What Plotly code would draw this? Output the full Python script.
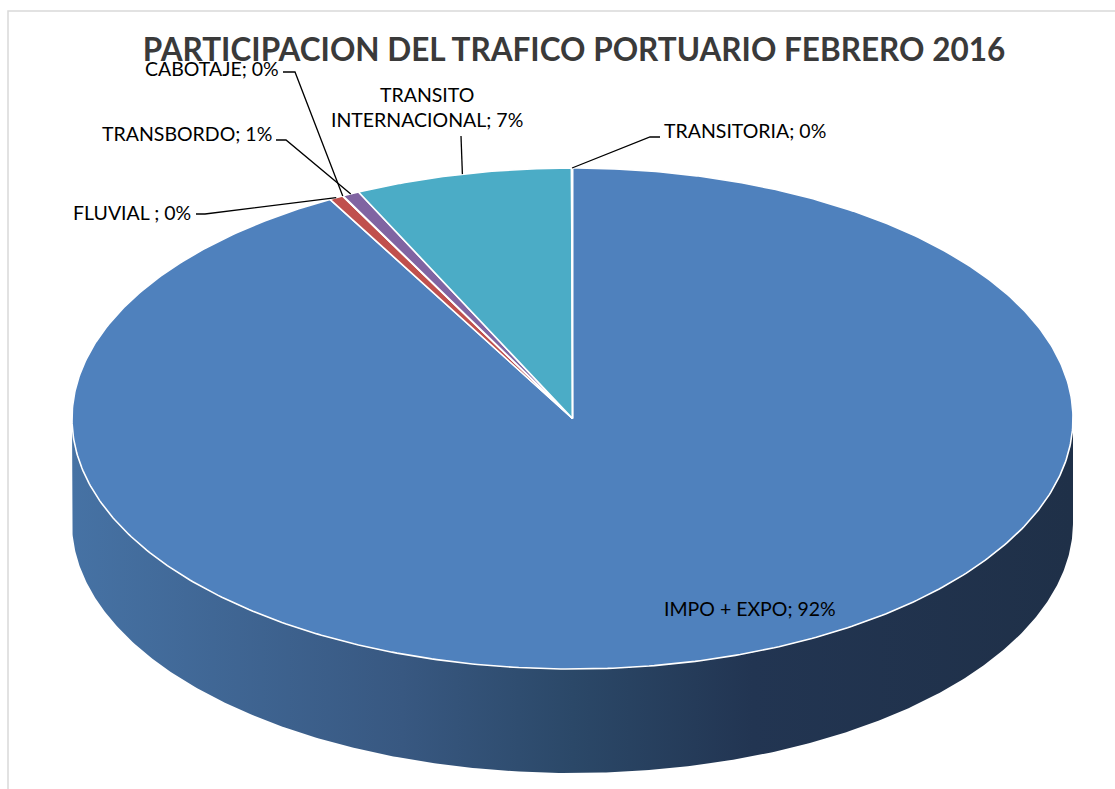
import numpy as np
import plotly.graph_objects as go

# ---------------- data ----------------
categories = ["IMPO + EXPO", "FLUVIAL ", "CABOTAJE", "TRANSBORDO", "TRANSITO INTERNACIONAL", "TRANSITORIA"]
values = [91.95, 0.45, 0.02, 0.55, 7.0, 0.03]
slice_colors = ["#4F81BD", "#C0504D", "#9BBB59", "#8064A2", "#4BACC6", "#F79646"]
title_text = "PARTICIPACION DEL TRAFICO PORTUARIO FEBRERO 2016"

# ---------------- layout constants ----------------
W, H = 1115, 789
cx, cy, rx, ry, depth = 572.5, 418.5, 500.5, 250.5, 104
side_scale = [[0.0, "#4672A4"], [0.33, "#385881"], [0.5, "#2B4868"],
              [0.68, "#223552"], [1.0, "#1F3048"]]
label_font = dict(family="Lato", size=19.5, color="#000000")

# label placement: (x, y, xanchor, leader points from label toward slice)
placement = {
    "IMPO + EXPO": (662, 608, "left", None),
    "FLUVIAL ": (193, 212, "right", [(196, 214), (205, 214)]),
    "CABOTAJE": (281, 68, "right", [(283, 72), (295, 72)]),
    "TRANSBORDO": (274, 133, "right", [(276, 140), (286, 140)]),
    "TRANSITO INTERNACIONAL": (427, 107, "center", [(461, 136)]),
    "TRANSITORIA": (662, 130, "left", [(660, 137), (650, 137)]),
}


def ell(t, dy=0.0):
    t = np.asarray(t)
    return cx + rx * np.sin(t), cy - ry * np.cos(t) + dy


total = float(sum(values))
fracs = [v / total for v in values]
bounds = np.concatenate([[0.0], np.cumsum(fracs)]) * 2 * np.pi

fig = go.Figure()

# side walls (front half, angles pi/2 .. 3pi/2)
for i, cat in enumerate(categories):
    a, b = max(bounds[i], np.pi / 2), min(bounds[i + 1], 3 * np.pi / 2)
    if b <= a:
        continue
    ts = np.linspace(a, b, 400)
    xt, yt = ell(ts)
    xb, yb = ell(ts[::-1], depth)
    fig.add_trace(go.Scatter(
        x=np.concatenate([xt, xb, xt[:1]]), y=np.concatenate([yt, yb, yt[:1]]),
        mode="lines", line=dict(width=0, color="rgba(0,0,0,0)"), fill="toself",
        fillgradient=dict(type="horizontal", colorscale=side_scale,
                          start=cx - rx, stop=cx + rx),
        hoverinfo="skip", showlegend=False))

# top faces
for i, cat in enumerate(categories):
    n = max(3, int(600 * fracs[i]) + 3)
    ts = np.linspace(bounds[i], bounds[i + 1], n)
    xa, ya = ell(ts)
    fig.add_trace(go.Scatter(
        x=np.concatenate([[cx], xa, [cx]]), y=np.concatenate([[cy], ya, [cy]]),
        mode="lines", line=dict(color="white", width=1.6), fill="toself",
        fillcolor=slice_colors[i], name=cat, hoverinfo="name", showlegend=False))

# labels and leader lines
for i, cat in enumerate(categories):
    pct = round(values[i] / total * 100)
    name = cat.replace(" ", "<br>", 1) if len(cat) > 20 else cat
    text = f"{name}; {pct}%"
    x, y, xa, leader = placement[cat]
    fig.add_annotation(x=x, y=y, text=text, showarrow=False, xanchor=xa,
                       yanchor="middle", font=label_font, align="center")
    if leader:
        tm = (bounds[i] + bounds[i + 1]) / 2
        ex, ey = ell(tm)
        xs = [p[0] for p in leader] + [float(ex)]
        ys = [p[1] for p in leader] + [float(ey)]
        fig.add_trace(go.Scatter(x=xs, y=ys, mode="lines",
                                 line=dict(color="black", width=1.3),
                                 hoverinfo="skip", showlegend=False))

fig.add_shape(type="rect", x0=8, y0=11, x1=W + 20, y1=H + 20,
              line=dict(color="#D9D9D9", width=1.5), layer="below")

fig.update_layout(
    width=W, height=H, margin=dict(l=0, r=0, t=0, b=0),
    paper_bgcolor="white", plot_bgcolor="white",
    title=dict(text=title_text, x=574 / W, xanchor="center",
               y=1 - 50 / H, yanchor="middle",
               font=dict(family="Lato", size=31.5, color="#3A3A3A", weight="bold")),
    xaxis=dict(range=[0, W], visible=False, fixedrange=True),
    yaxis=dict(range=[H, 0], visible=False, fixedrange=True),
)

fig.write_html("out.html", config={"displayModeBar": False},
               post_script="document.body.style.margin='0';")
